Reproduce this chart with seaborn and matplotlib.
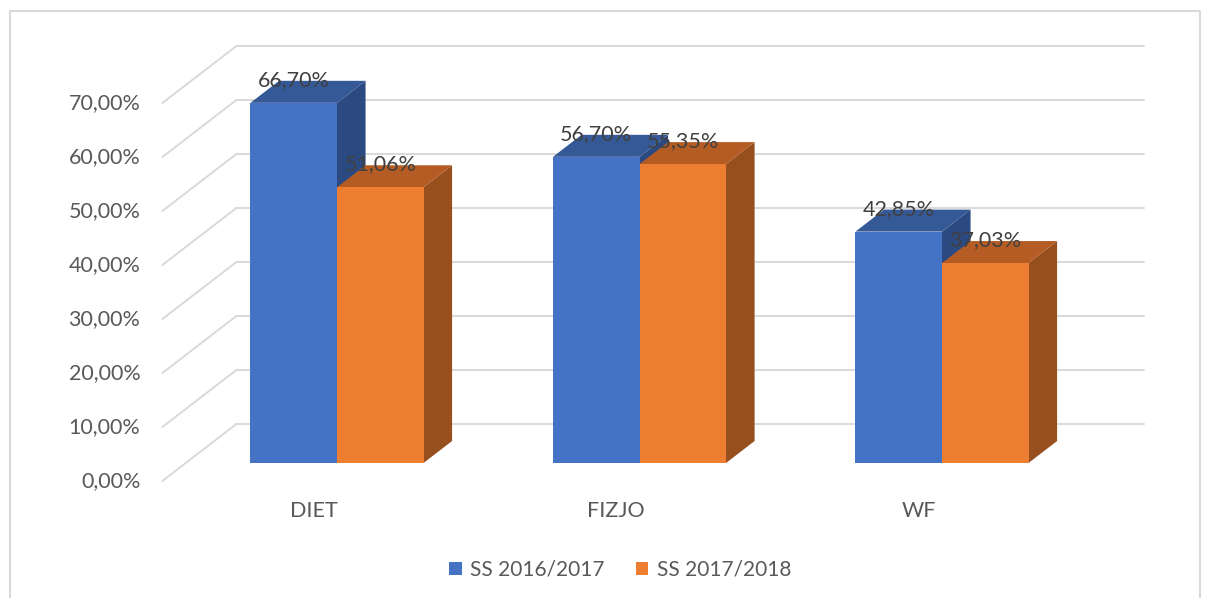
import numpy as np
import pandas as pd
import matplotlib
matplotlib.use("Agg")
import matplotlib.pyplot as plt
from matplotlib.patches import Polygon
from matplotlib.lines import Line2D
import seaborn as sns

categories = ["DIET", "FIZJO", "WF"]
series = ["SS 2016/2017", "SS 2017/2018"]
values_2016 = [66.70, 56.70, 42.85]
values_2017 = [51.06, 55.35, 37.03]
y_ticks = [0, 10, 20, 30, 40, 50, 60, 70]

front_colors = ["#4472C4", "#ED7D31"]
top_colors = ["#355896", "#B45C23"]
side_colors = ["#2C4A82", "#984F1E"]
grid_color = "#D9D9D9"
text_color = "#595959"
label_color = "#404040"
FS = 15.5

df = pd.DataFrame({
    "cat": categories * 2,
    "val": values_2016 + values_2017,
    "series": [series[0]] * 3 + [series[1]] * 3,
})

sns.set_theme(style="white")
plt.rcParams["font.family"] = ["Lato", "DejaVu Sans"]

W, H = 1210, 598
fig = plt.figure(figsize=(W / 100, H / 100), dpi=100)

PX_X = 302.5   # pixels per category unit
PX_Y = 5.4     # pixels per percent
X0_PX = 337.0  # pixel x of category 0 (bar front plane)
Y0_PX = 463.0  # pixel y (from top) of 0% on bar front plane
xlim = (-0.6, 2.6)
ylim = (0, 70)
left = (X0_PX + xlim[0] * PX_X) / W
width = (xlim[1] - xlim[0]) * PX_X / W
bottom = (H - Y0_PX) / H
height = (ylim[1] - ylim[0]) * PX_Y / H
ax = fig.add_axes([left, bottom, width, height])

sns.barplot(data=df, x="cat", y="val", hue="series", palette=front_colors,
            saturation=1, width=0.572, ax=ax, legend=False, linewidth=0,
            zorder=2)
ax.set_xlim(*xlim)
ax.set_ylim(*ylim)
ax.set_axis_off()

# 3D projection parameters (pixels)
DEPTH_DX, DEPTH_DY = 74.0, 57.0   # full floor depth vector (right, up)
D0 = 18.0 / 57.0                  # depth of bar front plane
D1 = D0 + 22.0 / 57.0             # depth of bar back plane


def proj(x, v, d):
    return (x + (d - D0) * DEPTH_DX / PX_X,
            v + (d - D0) * DEPTH_DY / PX_Y)


# back wall gridlines and left wall diagonals
for v in y_ticks:
    a = proj(-0.5, v, 1.0)
    b = proj(2.5, v, 1.0)
    c = proj(-0.5, v, 0.0)
    ax.add_line(Line2D([a[0], b[0]], [a[1], b[1]], color=grid_color,
                       lw=1.4, zorder=0.5, clip_on=False))
    ax.add_line(Line2D([c[0], a[0]], [c[1], a[1]], color=grid_color,
                       lw=1.4, zorder=0.5, clip_on=False))
    lbl = f"{v:.2f}%".replace(".", ",")
    ax.text(c[0] - 22.0 / PX_X, c[1], lbl, ha="right", va="center",
            fontsize=FS, color=text_color, clip_on=False)

# category labels
for i, cat in enumerate(categories):
    p = proj(i, 0, 0.0)
    ax.text(p[0], p[1] - 30.0 / PX_Y, cat, ha="center", va="center",
            fontsize=FS, color=text_color)

# 3D faces for bars
for s, cont in enumerate(ax.containers):
    for bar in cont:
        x = bar.get_x()
        w = bar.get_width()
        h = bar.get_height()
        z = 1.0 + s
        top = [proj(x, h, D0), proj(x + w, h, D0),
               proj(x + w, h, D1), proj(x, h, D1)]
        side = [proj(x + w, 0, D0), proj(x + w, h, D0),
                proj(x + w, h, D1), proj(x + w, 0, D1)]
        ax.add_patch(Polygon(side, closed=True, facecolor=side_colors[s],
                             edgecolor="none", zorder=z, clip_on=False))
        ax.add_patch(Polygon(top, closed=True, facecolor=top_colors[s],
                             edgecolor="none", zorder=z, clip_on=False))
        bar.set_zorder(z + 0.5)
        bar.set_clip_on(False)
        lbl = f"{h:.2f}%".replace(".", ",")
        ax.text(x + w / 2, h + 23.0 / PX_Y, lbl, ha="center", va="center",
                fontsize=FS, color=label_color, zorder=5)

# legend
handles = [plt.Rectangle((0, 0), 1, 1, facecolor=c, edgecolor="none")
           for c in front_colors]
leg = fig.legend(handles, series, loc="center",
                 bbox_to_anchor=(620 / W, 1 - 570 / H), ncol=2, frameon=False,
                 handlelength=0.6, handleheight=0.6, handletextpad=0.4,
                 columnspacing=1.5, fontsize=15)
for t in leg.get_texts():
    t.set_color(text_color)

# outer chart frame
fx = [10 / W, 10 / W, 1200 / W, 1200 / W]
fy = [0, 1 - 11 / H, 1 - 11 / H, 0]
fig.add_artist(Line2D(fx, fy, color=grid_color, lw=1.5,
                      transform=fig.transFigure))

fig.savefig("out.png", dpi=100, facecolor="white")
